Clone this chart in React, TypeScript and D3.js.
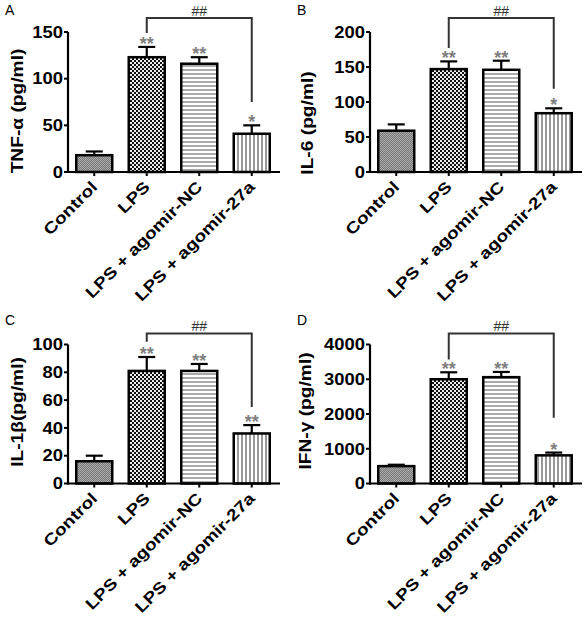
import React from "react";
import * as d3 from "d3";

const categories = ["Control", "LPS", "LPS + agomir-NC", "LPS + agomir-27a"];

const tnfMean = [18, 123, 116, 41];
const tnfErr = [4, 11, 7, 9];
const tnfStars = ["", "**", "**", "*"];
const tnfTicks = [0, 50, 100, 150];
const tnfBracket = [165, 149, 75];

const il6Mean = [59, 147, 146, 84];
const il6Err = [9, 11, 13, 7];
const il6Stars = ["", "**", "**", "*"];
const il6Ticks = [0, 50, 100, 150, 200];
const il6Bracket = [220, 177, 119];

const il1bMean = [16, 81, 81, 36];
const il1bErr = [4, 10, 5, 6];
const il1bStars = ["", "**", "**", "**"];
const il1bTicks = [0, 20, 40, 60, 80, 100];
const il1bBracket = [108, 102, 55];

const ifngMean = [500, 3000, 3060, 810];
const ifngErr = [40, 200, 150, 80];
const ifngStars = ["", "**", "**", "*"];
const ifngTicks = [0, 1000, 2000, 3000, 4000];
const ifngBracket = [4320, 3570, 1890];

const FONT = "'Liberation Sans', Arial, Helvetica, sans-serif";
const patterns = ["pControl", "pLPS", "pNC", "p27a"];

type PanelDef = {
  letter: string;
  title: string;
  means: number[];
  errs: number[];
  stars: string[];
  ticks: number[];
  bracket: number[];
  xr: [number, number];
  yr: [number, number];
  letterPos: [number, number];
  titlePos: [number, number];
};

const panels: PanelDef[] = [
  { letter: "A", title: "TNF-α (pg/ml)", means: tnfMean, errs: tnfErr, stars: tnfStars, ticks: tnfTicks, bracket: tnfBracket,
    xr: [68, 278], yr: [172, 32], letterPos: [5, 15], titlePos: [17, 111] },
  { letter: "B", title: "IL-6 (pg/ml)", means: il6Mean, errs: il6Err, stars: il6Stars, ticks: il6Ticks, bracket: il6Bracket,
    xr: [370, 580], yr: [172, 32], letterPos: [297, 15], titlePos: [307, 123] },
  { letter: "C", title: "IL-1β(pg/ml)", means: il1bMean, errs: il1bErr, stars: il1bStars, ticks: il1bTicks, bracket: il1bBracket,
    xr: [68, 278], yr: [483.5, 344.5], letterPos: [5, 325], titlePos: [17, 412] },
  { letter: "D", title: "IFN-γ (pg/ml)", means: ifngMean, errs: ifngErr, stars: ifngStars, ticks: ifngTicks, bracket: ifngBracket,
    xr: [370, 580], yr: [483.5, 344.5], letterPos: [297, 325], titlePos: [305, 411] },
];

function Panel({ p }: { p: PanelDef }) {
  const x = d3.scaleBand<string>().domain(categories).range(p.xr).paddingInner(0.314).paddingOuter(0.157);
  const yMax = p.ticks[p.ticks.length - 1];
  const y = d3.scaleLinear().domain([0, yMax]).range(p.yr);
  const bw = x.bandwidth();
  const ax = p.xr[0];
  const ay = p.yr[0];
  const cx = (c: string) => (x(c) as number) + bw / 2;
  const xL = cx(categories[1]);
  const xR = cx(categories[3]);
  const [bTop, bLeft, bRight] = p.bracket;
  return (
    <g>
      <text x={p.letterPos[0]} y={p.letterPos[1]} fontSize={14} fontFamily={FONT}>{p.letter}</text>
      {categories.map((c, i) => {
        const top = y(p.means[i]);
        const et = y(p.means[i] + p.errs[i]);
        return (
          <g key={c}>
            <line x1={cx(c)} x2={cx(c)} y1={top} y2={et} stroke="#000" strokeWidth={2.2} />
            <line x1={cx(c) - 8.5} x2={cx(c) + 8.5} y1={et} y2={et} stroke="#000" strokeWidth={2.2} />
            <rect x={x(c)} y={top} width={bw} height={ay - top} fill={`url(#${patterns[i]})`} stroke="#000" strokeWidth={2.5} />
            {p.stars[i] && (
              <text x={cx(c)} y={et - 7 + 10} textAnchor="middle" fontSize={18} fill="#808080" fontFamily={FONT} fontWeight="bold">
                {p.stars[i]}
              </text>
            )}
            <line x1={cx(c)} x2={cx(c)} y1={ay} y2={ay + 4} stroke="#000" strokeWidth={2} />
            <text transform={`translate(${cx(c) + 4},${ay + 16}) rotate(-45) scale(1.2,1)`} textAnchor="end" fontSize={16}
              fontWeight="bold" fontFamily={FONT}>{c}</text>
          </g>
        );
      })}
      <line x1={ax} x2={ax} y1={y(yMax)} y2={ay + 1} stroke="#000" strokeWidth={2.2} />
      <line x1={ax - 1} x2={p.xr[1] + 2} y1={ay} y2={ay} stroke="#000" strokeWidth={2.2} />
      {p.ticks.map((t) => (
        <g key={t}>
          <line x1={ax - 4} x2={ax} y1={y(t)} y2={y(t)} stroke="#000" strokeWidth={2} />
          <text transform={`translate(${ax - 5},${y(t)}) scale(1.15,1)`} textAnchor="end" dy="0.36em" fontSize={16}
            fontWeight="bold" fontFamily={FONT}>{t}</text>
        </g>
      ))}
      <text transform={`translate(${p.titlePos[0]},${p.titlePos[1]}) rotate(-90) scale(1.2,1)`} textAnchor="middle"
        dy="0.36em" fontSize={16} fontWeight="bold" fontFamily={FONT}>{p.title}</text>
      <path d={`M${xL},${y(bLeft)}V${y(bTop)}H${xR}V${y(bRight)}`} fill="none" stroke="#333" strokeWidth={2} />
      <text x={(xL + xR) / 2} y={y(bTop) - 2} textAnchor="middle" fontSize={14} fill="#333" fontFamily={FONT}>##</text>
    </g>
  );
}

export default function App() {
  return (
    <svg width={588} height={621} style={{ position: "absolute", left: 0, top: 0, background: "#fff" }}>
      <defs>
        <pattern id="pControl" patternUnits="userSpaceOnUse" width={2} height={2}>
          <rect width={2} height={2} fill="#7a7a7a" />
          <rect width={1} height={1} fill="#a9a9a9" />
          <rect x={1} y={1} width={1} height={1} fill="#a9a9a9" />
        </pattern>
        <pattern id="pLPS" patternUnits="userSpaceOnUse" width={4} height={4}>
          <rect width={4} height={4} fill="#111" />
          <rect x={0} y={0} width={2} height={2} fill="#eee" />
          <rect x={2} y={2} width={2} height={2} fill="#eee" />
        </pattern>
        <pattern id="pNC" patternUnits="userSpaceOnUse" width={4} height={4}>
          <rect width={4} height={4} fill="#fff" />
          <rect y={1} width={4} height={2} fill="#aaa" />
        </pattern>
        <pattern id="p27a" patternUnits="userSpaceOnUse" width={4} height={4}>
          <rect width={4} height={4} fill="#fff" />
          <rect x={1} width={2} height={4} fill="#999" />
        </pattern>
      </defs>
      <rect width={588} height={621} fill="#fff" />
      {panels.map((p) => (
        <Panel key={p.letter} p={p} />
      ))}
    </svg>
  );
}
